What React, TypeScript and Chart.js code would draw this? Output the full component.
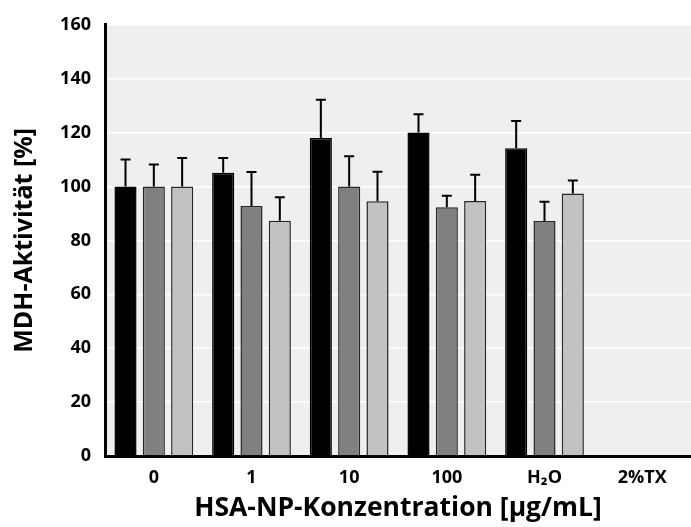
import React, { useEffect, useRef } from "react";
import { Chart, registerables } from "chart.js";

Chart.register(...registerables);

const categories = ["0", "1", "10", "100", "H₂O", "2%TX"];
const yTicks = [0, 20, 40, 60, 80, 100, 120, 140, 160];

const blackValues = [100, 105.1, 118, 120, 114.2, null];
const blackErrors = [10, 5.5, 14.2, 6.8, 10.1, null];
const darkValues = [100, 92.8, 100, 92.3, 87.2, null];
const darkErrors = [8.2, 12.6, 11.2, 4.3, 7.1, null];
const lightValues = [100, 87.3, 94.5, 94.6, 97.4, null];
const lightErrors = [10.6, 8.7, 11, 9.8, 4.8, null];

const errorSets = [blackErrors, darkErrors, lightErrors];

const FONT = "'Open Sans', 'DejaVu Sans', sans-serif";

const bgPlugin = {
  id: "plotBg",
  beforeDraw(chart: any) {
    const { ctx, chartArea } = chart;
    if (!chartArea) return;
    ctx.save();
    ctx.fillStyle = "#efefef";
    ctx.fillRect(chartArea.left, chartArea.top, chartArea.right - chartArea.left, chartArea.bottom - chartArea.top);
    ctx.restore();
  },
};

const errorPlugin = {
  id: "errorBars",
  afterDatasetsDraw(chart: any) {
    const { ctx } = chart;
    const yScale = chart.scales.y;
    ctx.save();
    ctx.strokeStyle = "#000";
    ctx.lineWidth = 2;
    chart.data.datasets.forEach((ds: any, di: number) => {
      const meta = chart.getDatasetMeta(di);
      const errs = errorSets[di];
      meta.data.forEach((bar: any, i: number) => {
        const v = ds.data[i];
        const e = errs[i];
        if (v == null || e == null) return;
        const x = bar.x;
        const yTop = yScale.getPixelForValue(v);
        const yErr = yScale.getPixelForValue(v + e);
        ctx.beginPath();
        ctx.moveTo(x, yTop);
        ctx.lineTo(x, yErr);
        ctx.moveTo(x - 5, yErr);
        ctx.lineTo(x + 5, yErr);
        ctx.stroke();
      });
    });
    ctx.restore();
  },
};

export default function App() {
  const ref = useRef<HTMLCanvasElement | null>(null);
  useEffect(() => {
    if (!ref.current) return;
    const chart = new Chart(ref.current, {
      type: "bar",
      data: {
        labels: categories,
        datasets: [
          { label: "A", data: blackValues, backgroundColor: "#000000", borderColor: "#000000", borderWidth: 1.5 },
          { label: "B", data: darkValues, backgroundColor: "#808080", borderColor: "#262626", borderWidth: 1.5 },
          { label: "C", data: lightValues, backgroundColor: "#c2c2c2", borderColor: "#262626", borderWidth: 1.5 },
        ],
      },
      options: {
        animation: false,
        responsive: true,
        maintainAspectRatio: false,
        layout: { padding: { top: 19, right: 0, bottom: 0, left: 0 } },
        datasets: { bar: { categoryPercentage: 0.87, barPercentage: 0.78 } },
        plugins: { legend: { display: false }, tooltip: { enabled: false } },
        scales: {
          x: {
            grid: { display: false, drawTicks: false },
            border: { color: "#000", width: 3 },
            ticks: { color: "#000", font: { family: FONT, size: 18, weight: "bold" }, padding: 11, maxRotation: 0 },
            title: {
              display: true,
              text: "HSA-NP-Konzentration [µg/mL]",
              color: "#000",
              font: { family: FONT, size: 26.5, weight: "bold" },
              padding: { top: 3, bottom: 3 },
            },
            afterFit(scale: any) {
              scale.height = 71;
            },
          },
          y: {
            min: 0,
            max: 160,
            afterBuildTicks(scale: any) {
              scale.ticks = yTicks.map((v) => ({ value: v }));
            },
            grid: { color: "#ffffff", lineWidth: 1.5, drawTicks: false },
            border: { color: "#000", width: 3 },
            ticks: { color: "#000", font: { family: FONT, size: 18, weight: "bold" }, padding: 14 },
            title: {
              display: true,
              text: "MDH-Aktivität [%]",
              color: "#000",
              font: { family: FONT, size: 25, weight: "bold" },
              padding: { top: 10, bottom: 10 },
            },
            afterFit(scale: any) {
              scale.width = 105;
            },
          },
        },
      },
      plugins: [bgPlugin, errorPlugin],
    });
    return () => chart.destroy();
  }, []);
  return (
    <div style={{ position: "absolute", left: 0, top: 0, width: 691, height: 527, background: "#fff" }}>
      <canvas ref={ref} />
    </div>
  );
}
